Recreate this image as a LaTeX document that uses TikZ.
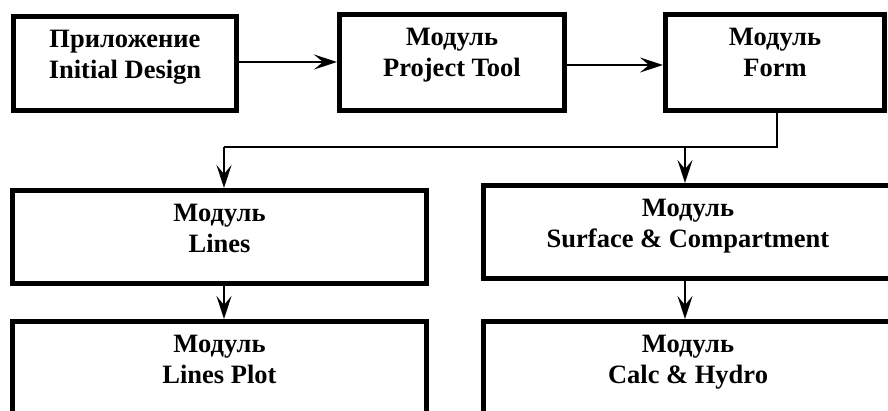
\documentclass[tikz,border=0pt]{standalone}
\usepackage{fontspec}
\setmainfont{Liberation Serif}
\usetikzlibrary{arrows.meta}
\begin{document}
\begin{tikzpicture}[x=1pt,y=-1pt,
  box/.style={draw=black, line width=5pt, rectangle, inner sep=0pt, fill=white},
  lbl/.style={anchor=north, inner sep=0pt, align=center, yshift=-16pt,
    font=\fontsize{26.5}{30.5}\selectfont\bfseries},
  conn/.style={draw=black, line width=2.3pt},
  arr/.style={conn, -{Stealth[length=23pt, width=15pt, inset=9pt]}}
]
\clip (0,0) rectangle (888,410);
\fill[white] (0,0) rectangle (888,410);
% boxes
\node[box, minimum width=223pt, minimum height=94pt] (b1) at (125,63.5) {};
\node[box, minimum width=225pt, minimum height=96pt] (b2) at (452,62.5) {};
\node[box, minimum width=219pt, minimum height=96pt] (b3) at (775,62.5) {};
\node[box, minimum width=414pt, minimum height=93pt] (b4) at (219.5,237) {};
\node[box, minimum width=409pt, minimum height=93pt] (b5) at (688,232) {};
\node[box, minimum width=414pt, minimum height=93pt] (b6) at (219.5,368) {};
\node[box, minimum width=409pt, minimum height=93pt] (b7) at (688,368) {};
% labels
\node[lbl] (t1) at (b1.north) {Приложение\\Initial Design};
\node[lbl] (t2) at (b2.north) {Модуль\\Project Tool};
\node[lbl] (t3) at (b3.north) {Модуль\\Form};
\node[lbl] (t4) at (b4.north) {Модуль\\Lines};
\node[lbl] (t5) at (b5.north) {Модуль\\Surface \& Compartment};
\node[lbl] (t6) at (b6.north) {Модуль\\Lines Plot};
\node[lbl] (t7) at (b7.north) {Модуль\\Calc \& Hydro};
% connectors
\coordinate (j1) at (777,147);
\coordinate (j2) at (224,147);
\coordinate (j3) at (685,147);
\coordinate (h1) at (0,62);
\coordinate (h2) at (0,65);
\draw[arr] (b1.east |- h1) -- (b2.west |- h1);
\draw[arr] (b2.east |- h2) -- (b3.west |- h2);
\draw[conn] (b3.south -| j1) -- (j1) -- (j2);
\draw[arr] (j2) -- (j2 |- b4.north);
\draw[arr] (j3) -- (j3 |- b5.north);
\draw[arr] (b4.south -| j2) -- (j2 |- b6.north);
\draw[arr] (b5.south -| j3) -- (j3 |- b7.north);
\end{tikzpicture}
\end{document}
